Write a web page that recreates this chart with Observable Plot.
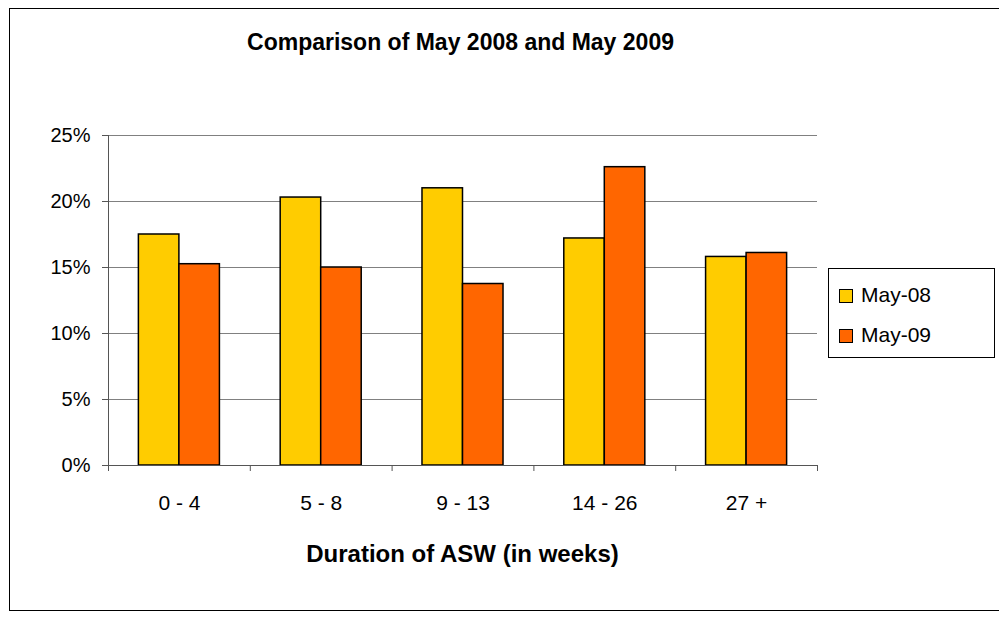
<!DOCTYPE html>
<html><head><meta charset="utf-8">
<script src="https://cdn.jsdelivr.net/npm/d3@7"></script>
<script src="https://cdn.jsdelivr.net/npm/@observablehq/plot@0.6"></script>
<style>
body{margin:0;background:#fff;font-family:"Liberation Sans",Arial,sans-serif;color:#000;}
#wrap{position:relative;width:999px;height:624px;overflow:hidden;background:#fff;}
#frame{position:absolute;left:9px;top:8px;width:1000px;height:603px;border:1px solid #000;box-sizing:border-box;}
#title{position:absolute;left:0;width:921px;top:29px;text-align:center;font-weight:bold;font-size:23px;}
#chart{position:absolute;left:0;top:0;}
#xtitle{position:absolute;left:0;width:925px;top:540px;text-align:center;font-weight:bold;font-size:24px;}
#legend{position:absolute;left:828px;top:268px;width:167px;height:90px;border:1px solid #000;box-sizing:border-box;font-size:21px;}
.item{position:absolute;left:10px;height:24px;line-height:24px;}
.sw{display:inline-block;width:12px;height:12px;border:1px solid #000;margin-right:8px;vertical-align:-1px;}
</style></head>
<body>
<div id="wrap">
  <div id="frame"></div>
  <div id="chart"></div>
  <div id="title"></div>
  <div id="xtitle"></div>
  <div id="legend"></div>
</div>
<script>
const titleText = "Comparison of May 2008 and May 2009";
const xTitle = "Duration of ASW (in weeks)";
const categories = ["0 - 4", "5 - 8", "9 - 13", "14 - 26", "27 +"];
const seriesNames = ["May-08", "May-09"];
const seriesColors = ["#FFCC00", "#FF6600"];
const may08 = [17.5, 20.3, 21.0, 17.2, 15.8];
const may09 = [15.25, 15.0, 13.75, 22.6, 16.1];
const yTicks = [0, 5, 10, 15, 20, 25];

document.getElementById("title").textContent = titleText;
document.getElementById("xtitle").textContent = xTitle;

const seriesValues = [may08, may09];
const rows = categories.flatMap((c, i) => seriesNames.map((s, k) => ({cat: c, i, k, series: s, value: seriesValues[k][i]})));

// Excel-style clustered columns: gap width 150%
const barW = 1 / (seriesNames.length + 1.5);
const gapL = 0.75 * barW;

const chart = Plot.plot({
  width: 999,
  height: 624,
  marginLeft: 108,
  marginRight: 182,
  marginTop: 135,
  marginBottom: 159,
  style: {fontFamily: "'Liberation Sans', Arial, sans-serif", fontSize: "20px", color: "#000", background: "transparent"},
  x: {type: "linear", domain: [0, categories.length]},
  y: {domain: [0, 25]},
  color: {domain: seriesNames, range: seriesColors},
  marks: [
    Plot.ruleY(yTicks.filter(d => d > 0), {stroke: "#808080", strokeWidth: 1}),
    Plot.rectY(rows, {
      x1: d => d.i + gapL + d.k * barW,
      x2: d => d.i + gapL + (d.k + 1) * barW,
      y: "value",
      fill: "series",
      stroke: "#000",
      strokeWidth: 1.5
    }),
    Plot.ruleX([0], {stroke: "#555"}),
    Plot.ruleY([0], {stroke: "#555"}),
    Plot.axisY({ticks: yTicks, tickFormat: d => d + "%", tickSize: 6, tickPadding: 12, stroke: "#555", fill: "#000", label: null}),
    Plot.axisX({ticks: d3.range(categories.length + 1), tickFormat: () => "", tickSize: 6, stroke: "#555", label: null}),
    Plot.axisX({ticks: categories.map((c, i) => i + 0.5), tickFormat: d => categories[Math.floor(d)], tickSize: 0, tickPadding: 30, fill: "#000", fontSize: 21, label: null})
  ]
});
document.getElementById("chart").appendChild(chart);

const legend = document.getElementById("legend");
seriesNames.forEach((s, k) => {
  const it = document.createElement("div");
  it.className = "item";
  it.style.top = (14 + k * 40) + "px";
  const sw = document.createElement("span");
  sw.className = "sw";
  sw.style.background = seriesColors[k];
  it.appendChild(sw);
  it.appendChild(document.createTextNode(s));
  legend.appendChild(it);
});
</script>
</body></html>
